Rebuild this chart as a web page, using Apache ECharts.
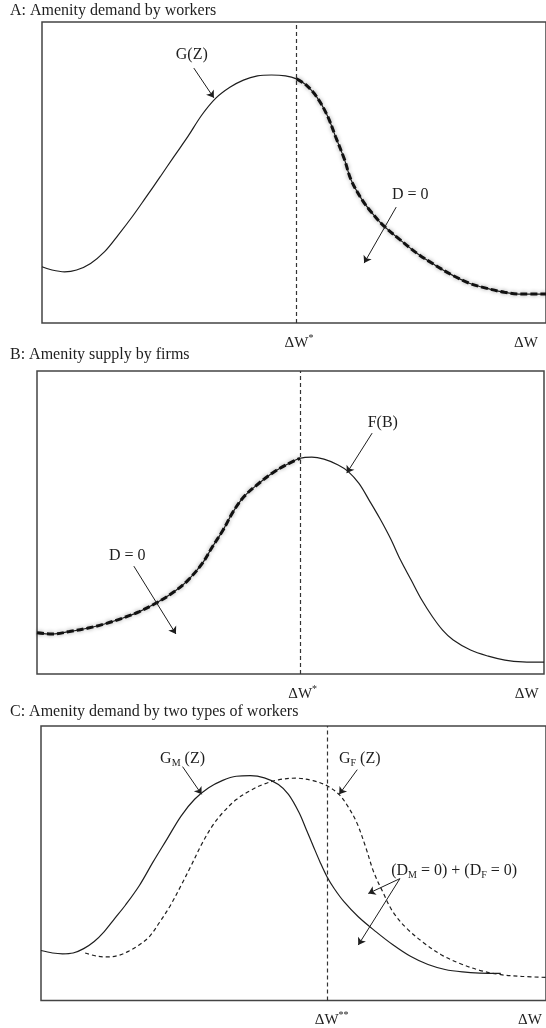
<!DOCTYPE html>
<html>
<head>
<meta charset="utf-8">
<script src="https://cdn.jsdelivr.net/npm/echarts@6/dist/echarts.min.js"></script>
<style>html,body{margin:0;padding:0;background:#fff}#c{width:546px;height:1028px}</style>
</head>
<body>
<div id="c"></div>
<script>
// ---------- data ----------
const panelTitles = ['A: Amenity demand by workers', 'B: Amenity supply by firms', 'C: Amenity demand by two types of workers'];

// Panel A: demand G(Z)
const demandX = [0, 2.0, 4.5, 6.9, 9.7, 12.5, 15.2, 18.0, 20.8, 23.6, 26.3, 29.1, 31.9, 34.7, 37.5, 40.2, 43.0, 45.8, 48.6, 50.8, 52.7, 54.8, 56.9, 58.6, 60.4, 61.7, 63.9, 65.9, 68.0, 71.5, 74.9, 78.4, 81.9, 85.3, 88.8, 92.3, 95.7, 100.6];
const demandG = [18.7, 17.6, 17.0, 17.6, 19.8, 23.7, 29.2, 35.3, 41.9, 48.6, 55.2, 61.9, 69.1, 74.7, 78.3, 80.7, 82.1, 82.4, 82.1, 81.1, 79.1, 75.2, 69.1, 61.9, 54.2, 47.5, 40.9, 36.5, 32.6, 27.6, 23.1, 19.3, 15.9, 13.2, 11.5, 10.2, 9.6, 9.6];
const demandStar = 50.8;

// Panel B: supply F(B)
const supplyX = [0, 3.0, 6.4, 9.9, 13.3, 16.8, 20.2, 23.6, 27.1, 29.8, 32.6, 34.6, 36.7, 38.7, 40.8, 43.6, 46.3, 49.1, 51.9, 54.2, 56.6, 59.4, 61.4, 63.5, 65.5, 67.6, 69.7, 71.7, 73.8, 75.9, 78.0, 80.0, 82.1, 85.5, 89.0, 92.3, 95.8, 100];
const supplyF = [13.6, 13.2, 14.0, 15.1, 16.5, 18.4, 20.6, 23.5, 27.2, 31.0, 36.5, 42.0, 47.5, 53.6, 58.5, 62.7, 66.2, 69.0, 71.2, 71.6, 70.9, 69.0, 66.8, 62.9, 57.4, 51.4, 44.8, 37.6, 31.0, 24.4, 18.9, 14.5, 11.2, 7.9, 5.9, 4.6, 4.0, 3.9];
const supplyStar = 51.9;

// Panel C: two worker types
const maleX = [0, 2.3, 4.3, 6.4, 8.5, 10.6, 12.6, 14.7, 16.8, 19.6, 22.3, 25.1, 27.9, 30.6, 33.4, 36.2, 38.9, 41.7, 44.5, 47.3, 49.3, 51.4, 52.8, 54.2, 55.6, 57.0, 58.4, 60.4, 63.2, 66.7, 70.1, 73.6, 77.1, 80.5, 84.0, 87.4, 91.6];
const maleG = [18.2, 17.3, 17.0, 17.3, 18.9, 21.5, 25.1, 29.9, 34.7, 41.9, 50.4, 58.8, 67.2, 73.3, 77.5, 80.2, 81.7, 81.9, 81.1, 78.7, 75.1, 68.5, 62.5, 56.4, 50.4, 45.0, 40.8, 35.9, 30.5, 25.1, 20.3, 16.1, 13.1, 11.3, 10.4, 10.0, 9.9];
const femaleX = [8.8, 11.3, 13.3, 15.4, 17.5, 19.6, 21.6, 23.7, 25.8, 27.9, 29.9, 32.0, 34.1, 36.2, 38.9, 41.7, 44.5, 47.3, 50.7, 54.2, 57.0, 59.4, 61.1, 62.9, 64.6, 66.3, 68.1, 70.1, 72.9, 76.4, 79.8, 83.3, 87.4, 91.6, 95.7, 100.6];
const femaleG = [17.3, 16.1, 15.9, 16.4, 18.0, 20.3, 23.3, 28.7, 34.7, 41.9, 49.1, 56.9, 63.5, 68.4, 73.2, 76.5, 78.9, 80.4, 81.0, 80.1, 78.2, 75.0, 70.8, 64.8, 56.3, 46.7, 39.5, 32.3, 26.2, 20.8, 16.6, 13.6, 11.0, 9.4, 8.8, 8.4];
const twoStar = 57.0;

const axisEndLabel = [96.6, 96.6, 97.4];

// ---------- helpers ----------
const FONT = '"Liberation Serif", "Times New Roman", serif';
const INK = '#1e1e1e';
const zip = (xs, ys) => xs.map((x, i) => [x, ys[i]]);
const richText = {
  t: {fontFamily: FONT, fontSize: 16, color: INK, lineHeight: 20},
  sub: {fontFamily: FONT, fontSize: 10, color: INK, lineHeight: 10, verticalAlign: 'bottom'},
  d: {fontFamily: FONT, fontSize: 15, color: INK, lineHeight: 20},
  s: {fontFamily: FONT, fontSize: 10, color: INK, lineHeight: 10, verticalAlign: 'top'},
  p: {width: 5},
  p2: {width: 9}
};
function textMarks(items) {
  return {
    symbol: 'circle', symbolSize: 1, itemStyle: {color: 'rgba(0,0,0,0)'},
    silent: true,
    data: items.map(it => ({coord: it.c, label: {show: true, position: 'inside', formatter: it.t, rich: richText}}))
  };
}
function lineMarks(star, arrows) {
  const data = [{xAxis: star, lineStyle: {type: [4, 3], width: 1.2, color: '#333'}}];
  arrows.forEach(a => data.push([{coord: a[0], symbol: 'none'}, {coord: a[1], symbol: 'arrow', symbolSize: 7}]));
  return {silent: true, symbol: ['none', 'none'], label: {show: false}, lineStyle: {color: INK, width: 1, type: 'solid'}, data: data};
}
function xAxisFor(gi, max, star, endVal, stars) {
  return {
    type: 'value', gridIndex: gi, min: 0, max: max,
    axisLine: {show: false}, axisTick: {show: false}, splitLine: {show: false},
    axisLabel: {
      customValues: [star, endVal], margin: 10, showMinLabel: true, showMaxLabel: true,
      formatter: v => Math.abs(v - star) < 0.001 ? (stars === 1 ? '{p|}{d|ΔW}{s|*}' : '{p2|}{d|ΔW}{s|**}') : '{d|ΔW}',
      rich: richText
    }
  };
}
const yAxisFor = gi => ({type: 'value', gridIndex: gi, min: 0, max: 100, show: false});
const solid = {color: INK, width: 1.2};
const thickDash = {color: '#111', width: 3, type: [7, 3], shadowColor: 'rgba(0,0,0,0.4)', shadowBlur: 4};
const base = {type: 'line', smooth: 0.35, showSymbol: false};

const demand = zip(demandX, demandG);
const supply = zip(supplyX, supplyF);

const option = {
  animation: false,
  backgroundColor: '#fff',
  title: [
    {text: panelTitles[0], left: 10, top: 3},
    {text: panelTitles[1], left: 10, top: 347},
    {text: panelTitles[2], left: 10, top: 704}
  ].map(t => Object.assign(t, {padding: 0, textStyle: {fontFamily: FONT, fontSize: 16, fontWeight: 'normal', color: INK}})),
  grid: [
    {left: 42, top: 22, width: 505, height: 301, show: true, borderColor: '#444', borderWidth: 1.5, backgroundColor: 'transparent'},
    {left: 37, top: 371, width: 507, height: 303, show: true, borderColor: '#444', borderWidth: 1.5, backgroundColor: 'transparent'},
    {left: 41, top: 726, width: 506, height: 277, show: true, borderColor: '#444', borderWidth: 1.5, backgroundColor: 'transparent'}
  ],
  xAxis: [
    xAxisFor(0, 100.6, demandStar, axisEndLabel[0], 1),
    xAxisFor(1, 100, supplyStar, axisEndLabel[1], 1),
    xAxisFor(2, 100.6, twoStar, axisEndLabel[2], 2)
  ],
  yAxis: [yAxisFor(0), yAxisFor(1), yAxisFor(2)],
  series: [
    // Panel A
    Object.assign({}, base, {xAxisIndex: 0, yAxisIndex: 0, data: demand, lineStyle: solid,
      markLine: lineMarks(demandStar, [[[30.3, 84.7], [34.3, 74.8]], [[70.7, 38.5], [64.3, 19.9]]]),
      markPoint: textMarks([{c: [29.9, 89.0], t: '{t|G(Z)}'}, {c: [73.5, 42.5], t: '{t|D = 0}'}])}),
    Object.assign({}, base, {xAxisIndex: 0, yAxisIndex: 0, data: demand.filter(p => p[0] >= demandStar), lineStyle: thickDash}),
    // Panel B
    Object.assign({}, base, {xAxisIndex: 1, yAxisIndex: 1, data: supply, lineStyle: solid,
      markLine: lineMarks(supplyStar, [[[66.1, 79.5], [61.1, 66.3]], [[19.1, 35.6], [27.4, 13.2]]]),
      markPoint: textMarks([{c: [68.2, 82.8], t: '{t|F(B)}'}, {c: [17.8, 38.9], t: '{t|D = 0}'}])}),
    Object.assign({}, base, {xAxisIndex: 1, yAxisIndex: 1, data: supply.filter(p => p[0] <= supplyStar), lineStyle: thickDash}),
    // Panel C
    Object.assign({}, base, {xAxisIndex: 2, yAxisIndex: 2, data: zip(maleX, maleG), lineStyle: solid,
      markLine: lineMarks(twoStar, [[[28.2, 85.2], [32.0, 75.1]], [[63.0, 84.1], [59.4, 75.1]], [[71.5, 44.4], [65.2, 39.0]], [[71.5, 44.4], [63.2, 20.2]]]),
      markPoint: textMarks([
        {c: [28.2, 88.1], t: '{t|G}{sub|M}{t| (Z)}'},
        {c: [63.5, 88.1], t: '{t|G}{sub|F}{t| (Z)}'},
        {c: [82.3, 47.3], t: '{t|(D}{sub|M}{t| = 0) + (D}{sub|F}{t| = 0)}'}
      ])}),
    Object.assign({}, base, {xAxisIndex: 2, yAxisIndex: 2, data: zip(femaleX, femaleG), lineStyle: {color: INK, width: 1.2, type: [4, 3]}})
  ]
};
echarts.init(document.getElementById('c'), null, {renderer: 'canvas'}).setOption(option);
</script>
</body>
</html>
